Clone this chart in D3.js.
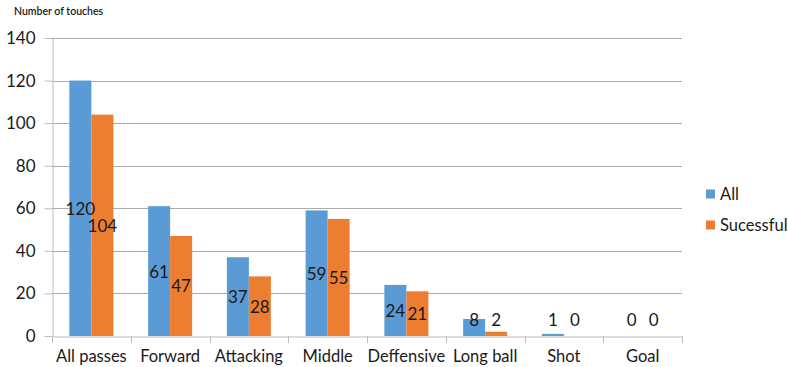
<!DOCTYPE html>
<html>
<head>
<meta charset="utf-8">
<script src="https://cdn.jsdelivr.net/npm/d3@7"></script>
<style>
  html, body { margin: 0; padding: 0; background: #fff; }
  svg { display: block; }
  text { font-family: Lato, "Open Sans", sans-serif; fill: #1a1a1a; }
</style>
</head>
<body>
<svg id="chart" width="788" height="367"></svg>
<script>
// Touch counts per pass type
const categories = ["All passes", "Forward", "Attacking", "Middle", "Deffensive", "Long ball", "Shot", "Goal"];
const seriesNames = ["All", "Sucessful"];
const allValues = [120, 61, 37, 59, 24, 8, 1, 0];
const successfulValues = [104, 47, 28, 55, 21, 2, 0, 0];
const yTicks = [0, 20, 40, 60, 80, 100, 120, 140];
const colors = ["#5B9BD5", "#ED7D31"];

const svg = d3.select("#chart");
const margin = { left: 52, right: 106, top: 38, bottom: 31 };
const W = 788, H = 367;

const x = d3.scaleBand().domain(categories).range([margin.left, W - margin.right]).paddingInner(0).paddingOuter(0);
const xs = d3.scaleBand().domain(seriesNames).range([0, x.bandwidth()]).paddingInner(0).paddingOuter(0.79);
const y = d3.scaleLinear().domain([0, 140]).range([H - margin.bottom, margin.top]);

// Gridlines
svg.append("g")
  .selectAll("line").data(yTicks.filter(d => d > 0)).join("line")
  .attr("x1", margin.left).attr("x2", W - margin.right)
  .attr("y1", d => Math.round(y(d)) + 0.5).attr("y2", d => Math.round(y(d)) + 0.5)
  .attr("stroke", "#acacac").attr("stroke-width", 1);

// Y axis
const yAxis = svg.append("g")
  .attr("transform", `translate(${margin.left + 0.5},0)`)
  .call(d3.axisLeft(y).tickValues(yTicks).tickSize(8).tickPadding(9).tickSizeOuter(0));
yAxis.select(".domain").attr("stroke", "#bdbdbd");
yAxis.selectAll(".tick line").attr("stroke", "#bdbdbd");
yAxis.selectAll(".tick text").style("font-size", "17px").attr("fill", "#1a1a1a");

// Bars
const rows = categories.map((c, i) => ({ cat: c, vals: [allValues[i], successfulValues[i]] }));
const groups = svg.append("g").selectAll("g").data(rows).join("g")
  .attr("transform", d => `translate(${x(d.cat)},0)`);

groups.selectAll("rect").data(d => d.vals.map((v, k) => ({ v, k }))).join("rect")
  .attr("x", d => xs(seriesNames[d.k]))
  .attr("width", xs.bandwidth())
  .attr("y", d => y(d.v))
  .attr("height", d => y(0) - y(d.v))
  .attr("fill", d => colors[d.k]);

// X axis
const xAxis = svg.append("g")
  .attr("transform", `translate(0,${Math.round(y(0)) + 0.5})`)
  .call(d3.axisBottom(x).tickSize(0).tickPadding(14));
xAxis.select(".domain").attr("stroke", "#bdbdbd");
xAxis.selectAll(".tick text").style("font-size", "16.5px").attr("fill", "#1a1a1a");
// Tick marks at category boundaries
svg.append("g").selectAll("line")
  .data(categories.map(c => x(c)).concat([x(categories[categories.length - 1]) + x.bandwidth()]))
  .join("line")
  .attr("x1", d => Math.round(d) + 0.5).attr("x2", d => Math.round(d) + 0.5)
  .attr("y1", y(0)).attr("y2", y(0) + 7)
  .attr("stroke", "#bdbdbd");

// Value labels, centered in bars (kept above the baseline for short bars)
groups.selectAll("text.val").data(d => d.vals.map((v, k) => ({ v, k }))).join("text")
  .attr("class", "val")
  .attr("x", d => xs(seriesNames[d.k]) + xs.bandwidth() / 2)
  .attr("y", d => Math.min((y(d.v) + y(0)) / 2, y(0) - 17))
  .attr("text-anchor", "middle")
  .attr("dominant-baseline", "central")
  .style("font-size", "17px")
  .text(d => d.v);

// Axis title
svg.append("text").attr("x", 14).attr("y", 15)
  .style("font-size", "10.5px").style("font-weight", "600").text("Number of touches");

// Legend
const legend = svg.append("g").selectAll("g").data(seriesNames).join("g")
  .attr("transform", (d, i) => `translate(706,${194 + i * 31})`);
legend.append("rect").attr("x", 0).attr("y", -4.5).attr("width", 9).attr("height", 9)
  .attr("fill", (d, i) => colors[i]);
legend.append("text").attr("x", 14).attr("y", 0).attr("dominant-baseline", "central")
  .style("font-size", "16.5px").text(d => d);
</script>
</body>
</html>
